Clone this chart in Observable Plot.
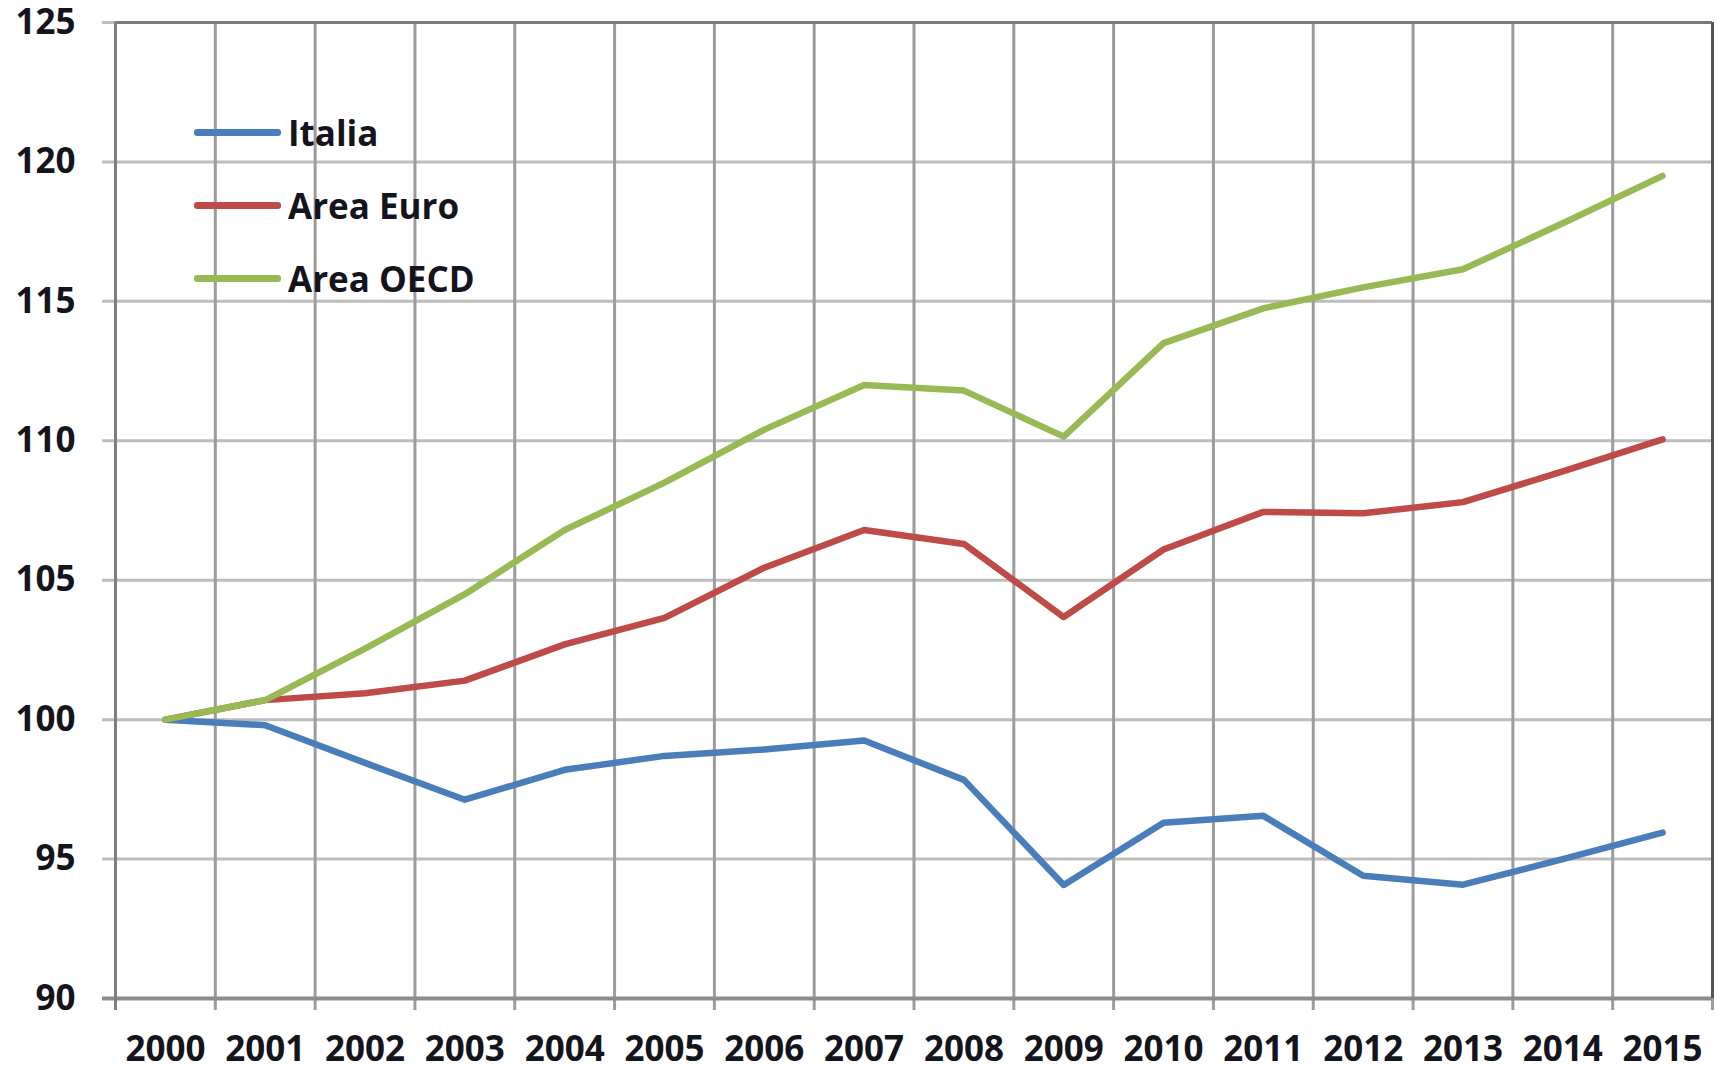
<!DOCTYPE html>
<html><head><meta charset="utf-8">
<script src="https://cdn.jsdelivr.net/npm/d3@7"></script>
<script src="https://cdn.jsdelivr.net/npm/@observablehq/plot@0.6"></script>
<style>
html,body{margin:0;padding:0;background:#fff;}
#wrap{position:relative;width:1723px;height:1068px;font-family:"Open Sans",sans-serif;}
#legend{position:absolute;left:194px;top:96px;}
#legend .item{display:flex;align-items:center;height:73px;}
#legend .swatch{width:87px;height:7px;border-radius:3px;margin-right:7px;}
#legend .lab{font-size:35px;font-weight:700;color:#14141c;line-height:1;}
</style></head><body><div id="wrap"></div>
<script>
const years = [2000,2001,2002,2003,2004,2005,2006,2007,2008,2009,2010,2011,2012,2013,2014,2015];
const italia   = [100, 99.8, 98.45, 97.13, 98.2, 98.7, 98.93, 99.25, 97.84, 94.07, 96.3, 96.55, 94.4, 94.08, 95.0, 95.95];
const areaEuro = [100, 100.7, 100.95, 101.4, 102.7, 103.65, 105.45, 106.8, 106.3, 103.68, 106.1, 107.45, 107.4, 107.8, 108.9, 110.05];
const areaOECD = [100, 100.7, 102.55, 104.5, 106.8, 108.5, 110.4, 112.0, 111.8, 110.15, 113.5, 114.75, 115.5, 116.15, 117.8, 119.5];
const seriesNames = ["Italia", "Area Euro", "Area OECD"];
const yTicks = [90, 95, 100, 105, 110, 115, 120, 125];

const colors = ["#4a7ebb", "#be4b48", "#98b954"];
const seriesValues = [italia, areaEuro, areaOECD];
const data = seriesNames.flatMap((name, i) => years.map((year, j) => ({series: name, year, value: seriesValues[i][j]})));
const boundaries = [...years.map(y => y - 0.5), years[years.length - 1] + 0.5];
const xMin = boundaries[0], xMax = boundaries[boundaries.length - 1];
const yMin = yTicks[0], yMax = yTicks[yTicks.length - 1];

const chart = Plot.plot({
  width: 1723, height: 1068,
  marginLeft: 115, marginRight: 11, marginTop: 22, marginBottom: 70,
  style: {fontFamily: '"Open Sans", sans-serif', fontSize: "35px", fontWeight: 700, color: "#14141c", background: "#fff", overflow: "visible"},
  x: {type: "linear", domain: [xMin, xMax], ticks: years, tickFormat: d => String(d), tickSize: 0, tickPadding: 38, label: null},
  y: {domain: [yMin, yMax], ticks: yTicks, tickSize: 0, tickPadding: 40, label: null},
  color: {domain: seriesNames, range: colors},
  marks: [
    Plot.ruleY(yTicks, {stroke: "#bdbdbd", strokeWidth: 3, insetLeft: -13}),
    Plot.ruleX(boundaries, {stroke: "#9c9c9c", strokeWidth: 3, insetBottom: -12}),
    Plot.ruleY([yMax], {stroke: "#7a7a7a", strokeWidth: 3}),
    Plot.ruleY([yMin], {stroke: "#8c8c8c", strokeWidth: 4, insetLeft: -13}),
    Plot.ruleX([xMin], {stroke: "#7f7f7f", strokeWidth: 3, insetBottom: -12}),
    Plot.ruleX([xMax], {stroke: "#555", strokeWidth: 3}),
    Plot.line(data, {x: "year", y: "value", z: "series", stroke: "series", strokeWidth: 6.5, strokeLinejoin: "round", strokeLinecap: "round"})
  ]
});

const wrap = document.getElementById("wrap");
wrap.appendChild(chart);
const legend = document.createElement("div");
legend.id = "legend";
seriesNames.forEach((name, i) => {
  const item = document.createElement("div");
  item.className = "item";
  const sw = document.createElement("div");
  sw.className = "swatch";
  sw.style.background = colors[i];
  const lab = document.createElement("div");
  lab.className = "lab";
  lab.textContent = name;
  item.appendChild(sw); item.appendChild(lab);
  legend.appendChild(item);
});
wrap.appendChild(legend);
</script>
</body></html>
